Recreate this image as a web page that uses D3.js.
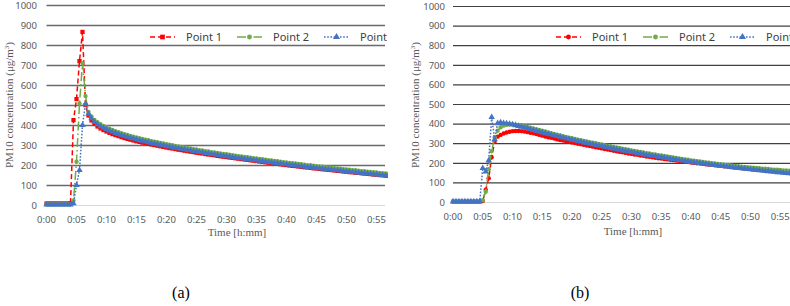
<!DOCTYPE html>
<html><head><meta charset="utf-8">
<script src="https://cdn.jsdelivr.net/npm/d3@7"></script>
<style>body{margin:0;background:#fff}</style>
</head><body><svg id="c" width="790" height="306"></svg>
<script>
// ---- data ----
const timeMin = d3.range(0, 60, 0.5); // sample times (minutes), every 30 s
const xTickValues = [0,5,10,15,20,25,30,35,40,45,50,55];
const xTickLabels = ["0:00","0:05","0:10","0:15","0:20","0:25","0:30","0:35","0:40","0:45","0:50","0:55"];
const yTickValues = [0,100,200,300,400,500,600,700,800,900,1000];
const seriesNames = ["Point 1","Point 2","Point 3"];
const captions = ["(a)","(b)"];
const yTitle = "PM10 concentration (\u03bcg/m";
const xTitle = "Time [h:mm]";

const aRed = [10,10,10,10,10,10,10,10,12,427,
 532,722,868,502,450,425,408,395,385,377,
 370,363,357,352,347,342,337,333,329,325,
 321,318,314,311,308,305,302,299,296,293,
 290,287,285,282,279,277,274,272,269,267,
 264,262,260,257,255,253,251,248,246,244,
 242,240,238,236,234,232,230,228,226,224,
 222,220,218,216,214,212,210,208,206,204,
 202,200,198,197,195,193,191,190,188,186,
 185,183,181,180,178,177,175,173,172,170,
 169,167,166,164,163,161,160,158,157,155,
 154,152,151,149,148,146,145,144,142,141];
const aGreen = [6,6,6,6,6,6,6,6,6,25,
 219,510,712,547,468,445,428,416,406,398,
 391,384,378,372,367,362,357,353,348,344,
 340,336,333,329,326,322,319,316,313,310,
 307,304,301,298,295,293,290,287,285,282,
 280,277,275,272,270,267,265,263,260,258,
 256,254,251,249,247,245,243,241,239,237,
 235,233,231,229,227,225,223,221,219,217,
 215,213,211,210,208,206,204,202,201,199,
 197,195,194,192,190,189,187,185,184,182,
 180,179,177,176,174,172,171,169,168,166,
 165,163,162,160,159,157,156,155,153,152];
const aBlue = [4,4,4,4,4,4,4,4,4,10,
 102,177,402,508,458,435,418,406,396,388,
 381,374,368,362,357,352,347,343,338,334,
 330,326,323,319,316,312,309,306,303,300,
 297,294,291,288,285,283,280,277,275,272,
 270,267,265,262,260,257,255,253,250,248,
 246,244,241,239,237,235,233,231,229,227,
 225,223,221,219,217,215,213,211,209,207,
 205,203,201,200,198,196,194,192,191,189,
 187,185,184,182,180,179,177,175,174,172,
 170,169,167,166,164,162,161,159,158,156,
 155,153,152,150,149,147,146,145,143,142];
const bRed = [5,5,5,5,5,5,5,5,5,5,
 8,65,124,231,310,336,345,352,357,361,
 364,365,365,364,362,359,356,353,349,345,
 341,337,333,330,326,322,319,316,312,309,
 306,303,300,297,294,291,288,285,282,279,
 276,273,270,267,264,261,258,256,253,250,
 248,245,243,240,238,235,233,231,228,226,
 224,222,220,218,216,214,212,210,208,206,
 204,202,200,199,197,195,193,192,190,188,
 187,185,184,182,181,179,178,176,175,173,
 172,170,169,167,166,164,163,161,160,159,
 157,156,155,153,152,151,150,148,147,146];
const bGreen = [5,5,5,5,5,5,5,5,5,5,
 12,55,170,262,333,366,384,392,396,398,
 398,397,395,393,390,386,382,378,374,370,
 366,362,358,354,350,346,342,338,335,331,
 328,324,321,318,314,311,308,305,302,299,
 296,293,290,287,284,281,278,275,272,269,
 266,263,261,258,255,252,250,247,245,242,
 240,237,235,232,230,227,225,222,220,218,
 215,213,211,209,207,205,203,201,199,197,
 195,193,192,190,188,187,185,183,182,180,
 179,177,176,175,173,172,171,169,168,167,
 166,164,163,162,161,160,159,158,157,156];
const bBlue = [5,5,5,5,5,5,5,5,5,5,
 175,158,215,435,322,404,408,405,403,401,
 398,394,390,386,382,378,374,369,365,361,
 357,353,350,346,342,338,335,331,327,324,
 320,317,313,310,306,303,300,296,293,290,
 287,284,281,277,274,271,268,265,263,260,
 257,254,251,249,246,243,241,238,236,233,
 231,228,226,223,221,219,216,214,212,209,
 207,205,203,201,199,197,195,193,191,189,
 187,185,183,181,179,177,176,174,172,170,
 169,167,165,164,162,160,159,157,156,154,
 153,151,150,148,147,146,144,143,141,140];

// ---- styles ----
const colors = ["#ff0000","#70ad47","#4472c4"];
const dashes = ["5,3","9,3,1.5,3","1.6,1.6"];
const symbolMap = {square: d3.symbolSquare, circle: d3.symbolCircle, triangle: d3.symbolTriangle};
const symbolSize = {square: 18, circle: 15, triangle: 18};

const panels = [
  {series:[aRed,aGreen,aBlue], markers:["square","circle","triangle"], clip:[0,388],
   xr:[46.5,406.5], yr:[205.5,5.5], gridEnd:385, gridColor:"#6a6a6a", gridW:1.5,
   tickX:37, tickY:222.5, ylab:[13,105], xtitle:[237,235.5], legend:[150,37], caption:181},
  {series:[bRed,bGreen,bBlue], markers:["circle","circle","triangle"], clip:[390,790],
   xr:[453,810], yr:[202.5,6.5], gridEnd:790, gridColor:"#404040", gridW:1.2,
   tickX:445, tickY:219.5, ylab:[419,105], xtitle:[633,234.5], legend:[556,37], caption:580}
];

const svg = d3.select("#c");
svg.append("rect").attr("width",790).attr("height",306).attr("fill","#fff");
const defs = svg.append("defs");

panels.forEach((p, pi) => {
  defs.append("clipPath").attr("id","clip"+pi).append("rect")
    .attr("x",p.clip[0]).attr("y",0).attr("width",p.clip[1]-p.clip[0]).attr("height",250);
  const g = svg.append("g").attr("clip-path","url(#clip"+pi+")");
  const x = d3.scaleLinear().domain([0,60]).range(p.xr);
  const y = d3.scaleLinear().domain([0,1000]).range(p.yr);

  // gridlines
  g.append("g").selectAll("line").data(yTickValues).join("line")
    .attr("x1",p.xr[0]).attr("x2",p.gridEnd)
    .attr("y1",d=>y(d)).attr("y2",d=>y(d))
    .attr("stroke",d=>d===0?"#d9d9d9":p.gridColor)
    .attr("stroke-width",d=>d===0?1:p.gridW);

  // y tick labels
  g.append("g").selectAll("text").data(yTickValues).join("text")
    .attr("x",p.tickX).attr("y",d=>y(d)+3.3)
    .attr("text-anchor","end").attr("font-family","'Noto Sans', sans-serif")
    .attr("font-size",9.5).attr("fill","#595959").text(d=>d);

  // x tick labels
  g.append("g").selectAll("text").data(xTickValues).join("text")
    .attr("x",d=>x(d)).attr("y",p.tickY)
    .attr("text-anchor","middle").attr("font-family","'Noto Sans', sans-serif")
    .attr("font-size",9.5).attr("fill","#595959").text((d,i)=>xTickLabels[i]);

  // y title
  const yt = g.append("text")
    .attr("transform",`translate(${p.ylab[0]},${p.ylab[1]}) rotate(-90)`)
    .attr("text-anchor","middle").attr("font-family","'Liberation Serif','Times New Roman',serif")
    .attr("font-size",11).attr("fill","#595959");
  yt.append("tspan").text(yTitle);
  yt.append("tspan").attr("font-size",7).attr("dy",-4).text("3");
  yt.append("tspan").attr("dy",4).text(")");

  // x title
  g.append("text").attr("x",p.xtitle[0]).attr("y",p.xtitle[1])
    .attr("text-anchor","middle").attr("font-family","'Liberation Serif','Times New Roman',serif")
    .attr("font-size",11).attr("fill","#595959").text(xTitle);

  // series
  p.series.forEach((vals, si) => {
    const pts = timeMin.map((t,i)=>[t, vals[i]]);
    const line = d3.line().x(d=>x(d[0])).y(d=>y(d[1]));
    g.append("path").datum(pts).attr("d",line).attr("fill","none")
      .attr("stroke",colors[si]).attr("stroke-width",1.5)
      .attr("stroke-dasharray",dashes[si]);
    const sym = d3.symbol().type(symbolMap[p.markers[si]]).size(symbolSize[p.markers[si]]);
    g.append("g").selectAll("path").data(pts).join("path")
      .attr("transform",d=>`translate(${x(d[0])},${y(d[1])})`)
      .attr("d",sym).attr("fill",colors[si]);
  });

  // legend
  const lg = g.append("g");
  seriesNames.forEach((name, si) => {
    const lx = p.legend[0] + si*87, ly = p.legend[1];
    lg.append("line").attr("x1",lx).attr("x2",lx+25).attr("y1",ly).attr("y2",ly)
      .attr("stroke",colors[si]).attr("stroke-width",1.5).attr("stroke-dasharray",dashes[si]);
    lg.append("path").attr("transform",`translate(${lx+12.5},${ly})`)
      .attr("d",d3.symbol().type(symbolMap[p.markers[si]]).size(symbolSize[p.markers[si]]+4)())
      .attr("fill",colors[si]);
    lg.append("text").attr("x",lx+36).attr("y",ly+4)
      .attr("font-family","'Noto Sans', sans-serif").attr("font-size",11)
      .attr("fill","#404040").text(name);
  });

  // caption
  svg.append("text").attr("x",p.caption).attr("y",298).attr("text-anchor","middle")
    .attr("font-family","'Liberation Serif','Times New Roman',serif")
    .attr("font-size",16).attr("fill","#000").text(captions[pi]);
});
</script>
</body></html>
